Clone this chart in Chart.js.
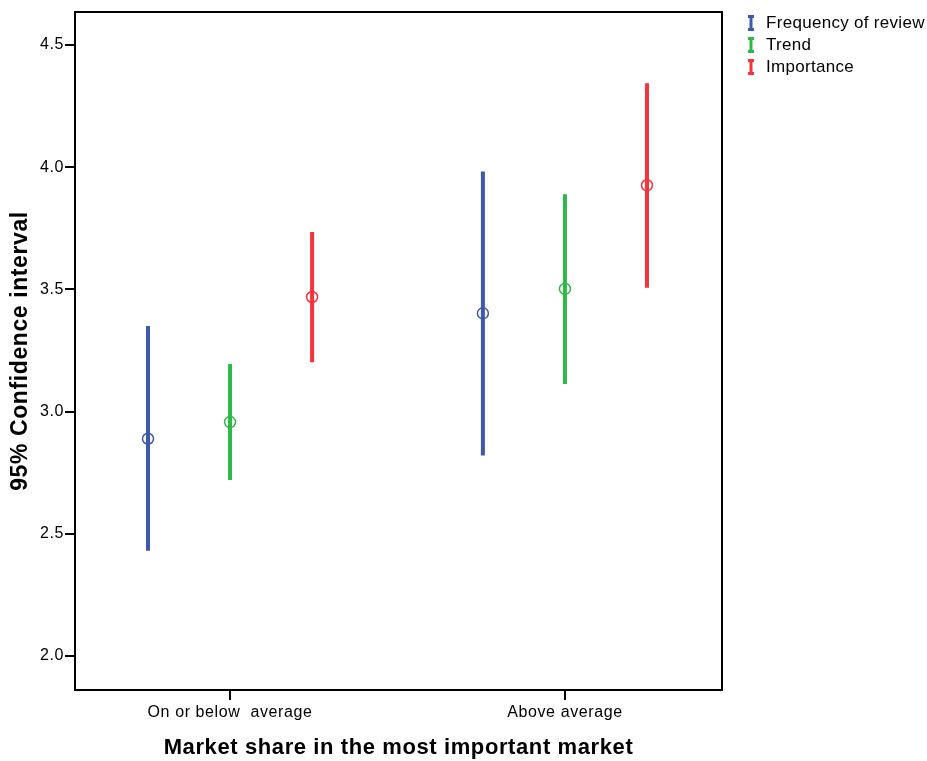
<!DOCTYPE html>
<html>
<head>
<meta charset="utf-8">
<script src="https://cdn.jsdelivr.net/npm/chart.js@4/dist/chart.umd.min.js"></script>
<style>
  body { margin: 0; background: #fff; }
  #wrap { position: relative; width: 927px; height: 761px; }
  #legend { position: absolute; left: 746px; top: 12px; font-family: "Liberation Sans", Arial, sans-serif; font-size: 17px; letter-spacing: 0.3px; color: #000; }
  #legend div { height: 22px; line-height: 22px; display: flex; align-items: center; }
  #legend svg { margin-right: 10px; }
</style>
</head>
<body>
<div id="wrap">
  <canvas id="ciChart" width="927" height="761"></canvas>
  <div id="legend"></div>
</div>
<script>
const categories = ["On or below  average", "Above average"];
const seriesNames = ["Frequency of review", "Trend", "Importance"];
const seriesColors = ["#3e58ac", "#2eb848", "#f4333d"];
// means and 95% CI bounds, one value per category
const means = [
  [2.889, 3.402],
  [2.957, 3.502],
  [3.469, 3.926],
];
const lower = [
  [2.431, 2.820],
  [2.720, 3.113],
  [3.202, 3.507],
];
const upper = [
  [3.350, 3.982],
  [3.195, 3.889],
  [3.735, 4.343],
];
const yTicks = [2.0, 2.5, 3.0, 3.5, 4.0, 4.5];

const groupOffset = 0.245;
const font = "'Liberation Sans', Arial, sans-serif";

function xPos(cat, s) {
  return cat + 1 + (s - 1) * groupOffset;
}

const datasets = [];
seriesNames.forEach((name, s) => {
  const pts = [];
  categories.forEach((c, i) => {
    pts.push({ x: xPos(i, s), y: lower[s][i] });
    pts.push({ x: xPos(i, s), y: upper[s][i] });
    pts.push({ x: xPos(i, s), y: null });
  });
  datasets.push({
    label: name + " CI",
    data: pts,
    showLine: true,
    spanGaps: false,
    borderColor: seriesColors[s],
    borderWidth: 4,
    borderCapStyle: "butt",
    pointRadius: 0,
  });
});
seriesNames.forEach((name, s) => {
  datasets.push({
    label: name,
    data: categories.map((c, i) => ({ x: xPos(i, s), y: means[s][i] })),
    showLine: false,
    pointStyle: "circle",
    pointRadius: 5.5,
    borderWidth: 1.5,
    pointBorderColor: seriesColors[s],
    pointBackgroundColor: "rgba(0,0,0,0)",
  });
});

// frame round the plot area, and a bit of letter spacing like the original
const boxPlugin = {
  id: "box",
  beforeDraw(chart) {
    chart.ctx.letterSpacing = "0.6px";
  },
  afterDraw(chart) {
    const { ctx, chartArea: a } = chart;
    ctx.save();
    ctx.strokeStyle = "#000";
    ctx.lineWidth = 2;
    ctx.strokeRect(a.left, a.top, a.right - a.left, a.bottom - a.top);
    ctx.restore();
  },
};

new Chart(document.getElementById("ciChart").getContext("2d"), {
  type: "scatter",
  data: { datasets: datasets },
  plugins: [boxPlugin],
  options: {
    responsive: false,
    animation: false,
    layout: { padding: { top: 12, right: 205, left: 0, bottom: 0 } },
    plugins: { legend: { display: false }, tooltip: { enabled: false } },
    scales: {
      x: {
        type: "linear",
        min: 0.537,
        max: 2.469,
        afterBuildTicks: (scale) => {
          scale.ticks = categories.map((c, i) => ({ value: i + 1 }));
        },
        afterFit: (scale) => { scale.height = 71; },
        ticks: {
          color: "#000",
          font: { family: font, size: 16 },
          padding: 3,
          maxRotation: 0,
          autoSkip: false,
          callback: (v) => categories[Math.round(v) - 1],
        },
        grid: { drawOnChartArea: false, drawTicks: true, tickLength: 10, color: "#000", lineWidth: 2 },
        border: { display: true, color: "#000", width: 2 },
        title: {
          display: true,
          text: "Market share in the most important market",
          color: "#000",
          font: { family: font, size: 22, weight: "bold" },
          padding: { top: 0, bottom: 0 },
        },
      },
      y: {
        type: "linear",
        min: 1.861,
        max: 4.635,
        afterBuildTicks: (scale) => {
          scale.ticks = yTicks.map((v) => ({ value: v }));
        },
        afterFit: (scale) => { scale.width = 75; },
        ticks: {
          color: "#000",
          font: { family: font, size: 16 },
          padding: 1,
          callback: (v) => v.toFixed(1),
        },
        grid: { drawOnChartArea: false, drawTicks: true, tickLength: 10, color: "#000", lineWidth: 2 },
        border: { display: true, color: "#000", width: 2 },
        title: {
          display: true,
          text: "95% Confidence interval",
          color: "#000",
          font: { family: font, size: 23, weight: "bold" },
          padding: { top: 7, bottom: 0 },
        },
      },
    },
  },
});

const legend = document.getElementById("legend");
seriesNames.forEach((name, s) => {
  const c = seriesColors[s];
  const row = document.createElement("div");
  row.innerHTML =
    `<svg width="10" height="16"><path d="M2 1.5 H8 M5 1.5 V14.5 M2 14.5 H8" stroke="${c}" stroke-width="3" fill="none"/></svg>` +
    `<span>${name}</span>`;
  legend.appendChild(row);
});
</script>
</body>
</html>
